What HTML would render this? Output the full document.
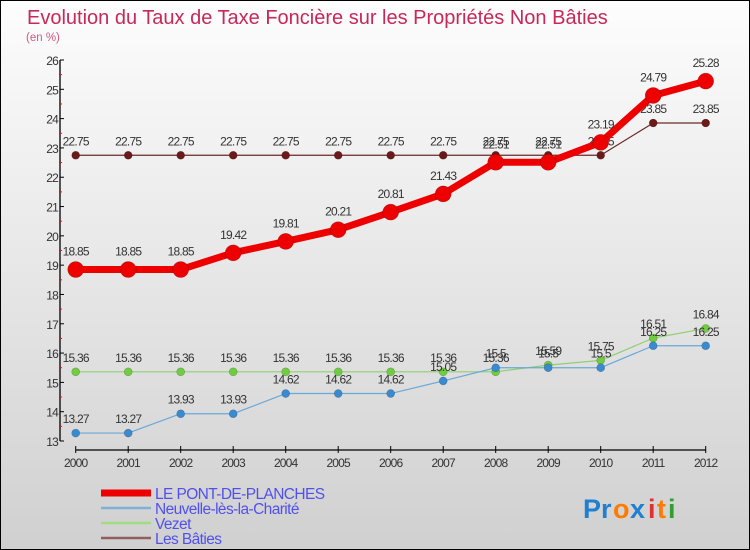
<!DOCTYPE html>
<html><head><meta charset="utf-8">
<style>
html,body{margin:0;padding:0}
body{width:750px;height:550px;overflow:hidden;font-family:"Liberation Sans",sans-serif}
#wrap{position:relative;width:748px;height:548px;border:1px solid #000;background:linear-gradient(#fdfdfd,#d0d0d0)}
svg{position:absolute;left:0;top:0}
</style></head><body>
<div id="wrap">
<svg id="chart" width="748" height="548">
<text x="26" y="23" font-size="20" fill="#c8285a">Evolution du Taux de Taxe Foncière sur les Propriétés Non Bâties</text>
<text x="25" y="40" font-size="11.5" fill="#d05a80">(en %)</text>
<g id="plot"></g>
<g id="legend"></g>
<g font-size="27" font-weight="bold">
<text x="582" y="517" fill="#1f7fd0">P</text><text x="600" y="517" fill="#1f7fd0">r</text><text x="612" y="517" fill="#ff7a00">o</text><text x="629" y="517" fill="#1f7fd0">x</text><text x="647" y="517" fill="#e03030">i</text><text x="656" y="517" fill="#ff7a00">t</text><text x="667" y="517" fill="#30a030">i</text>
</g>
</svg>
</div>
<script>
const years=[2000,2001,2002,2003,2004,2005,2006,2007,2008,2009,2010,2011,2012];
const yTicks=[13,14,15,16,17,18,19,20,21,22,23,24,25,26];
const pontValues=[18.85,18.85,18.85,19.42,19.81,20.21,20.81,21.43,22.51,22.51,23.19,24.79,25.28];
const neuvelleValues=[13.27,13.27,13.93,13.93,14.62,14.62,14.62,15.05,15.5,15.5,15.5,16.25,16.25];
const vezetValues=[15.36,15.36,15.36,15.36,15.36,15.36,15.36,15.36,15.36,15.59,15.75,16.51,16.84];
const batiesValues=[22.75,22.75,22.75,22.75,22.75,22.75,22.75,22.75,22.75,22.75,22.75,23.85,23.85];
const seriesNames=["LE PONT-DE-PLANCHES","Neuvelle-lès-la-Charité","Vezet","Les Bâties"];

const NS="http://www.w3.org/2000/svg";
const X0=74.7,X1=704.7,YMIN=13,YMAX=26,PY0=440,PY1=59;
const xs=i=>X0+(X1-X0)*i/(years.length-1);
const ys=v=>PY0-(v-YMIN)/(YMAX-YMIN)*(PY0-PY1);
const plot=document.getElementById('plot');
function mk(tag,attrs,parent){const e=document.createElementNS(NS,tag);for(const k in attrs)e.setAttribute(k,attrs[k]);(parent||plot).appendChild(e);return e;}
// axes
let a=mk('line',{x1:59,y1:59,x2:59,y2:440,stroke:'#000','stroke-width':1.3});


a=mk('line',{x1:X0,y1:449,x2:X1,y2:449,stroke:'#000','stroke-width':1.3});


yTicks.forEach(t=>{
 const y=ys(t);
 mk('line',{x1:59,y1:y,x2:63,y2:y,stroke:'#000'});
 if(t<26){mk('line',{x1:58,y1:ys(t+0.5),x2:61,y2:ys(t+0.5),stroke:'#f00'});}
 const tx=mk('text',{x:57,y:y+5,'font-size':12,fill:'#333','text-anchor':'end','letter-spacing':'-0.8'});
 tx.textContent=t;
 
 
});
years.forEach((yr,i)=>{
 const x=xs(i);
 mk('line',{x1:x,y1:445,x2:x,y2:452,stroke:'#000'});
 const tx=mk('text',{x:x,y:466,'font-size':12,fill:'#333','text-anchor':'middle','letter-spacing':'-0.8'});
 tx.textContent=yr;
 
 
});
function fmt(v){return String(v).replace(/(\.\d)0$/,'$1');}
function series(vals,color,w,r,name,dot){
 const g=mk('g',{});
 
 
 mk('polyline',{points:vals.map((v,i)=>xs(i)+','+ys(v)).join(' '),fill:'none',stroke:color,'stroke-width':w,'stroke-linejoin':'round'},g);
 vals.forEach((v,i)=>{
  const c=mk('circle',{cx:xs(i),cy:ys(v),r:r,fill:dot,stroke:'rgba(0,0,0,0.25)','stroke-width':0.6},g);
  
  
  const t=mk('text',{x:xs(i),y:ys(v)-(r+6),'font-size':12,fill:'#333','text-anchor':'middle','letter-spacing':'-0.8'},g);
  t.textContent=fmt(v);
 });
}
series(batiesValues,'#6b2a2a',1.2,4,'series-les-baties','#6b1a1a');
series(vezetValues,'#90d070',1.2,4,'series-vezet','#70cc40');
series(neuvelleValues,'#6aa8d8',1.2,4,'series-neuvelle','#3a8ad0');
series(pontValues,'#ee0000',7,8,'series-le-pont-de-planches','#ee0000');
// legend
const lg=document.getElementById('legend');
const lcols=['#ee0000','#80b0d8','#a0dd80','#906060'];
const lw=[7,2.5,2.5,2.5];
seriesNames.forEach((n,i)=>{
 const y=492+i*15;
 const g=mk('g',{},lg);
 
 
 mk('line',{x1:100,y1:y,x2:150,y2:y,stroke:lcols[i],'stroke-width':lw[i]},g);
 const t=mk('text',{x:154,y:y+6,'font-size':15.5,fill:'#5050ee','letter-spacing':'-0.6'},g);
 t.textContent=n;
});
</script>
</body></html>
